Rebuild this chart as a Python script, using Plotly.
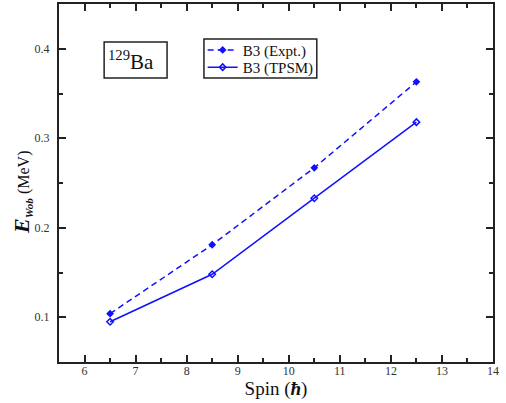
import plotly.graph_objects as go

spin = [6.5, 8.5, 10.5, 12.5]
e_expt = [0.104, 0.181, 0.267, 0.363]
e_tpsm = [0.095, 0.148, 0.233, 0.318]
x_ticks = [6, 7, 8, 9, 10, 11, 12, 13, 14]
y_ticks = [0.1, 0.2, 0.3, 0.4]

blue = "#1010ff"
serif = "Liberation Serif, Times New Roman, serif"

fig = go.Figure()
fig.add_trace(go.Scatter(
    x=spin, y=e_expt, mode="lines+markers", name="B3 (Expt.)",
    line=dict(color=blue, width=1.5, dash="6px,4px"),
    marker=dict(symbol="diamond", size=6, color=blue),
    legend="legend",
))
fig.add_trace(go.Scatter(
    x=spin, y=e_tpsm, mode="lines+markers", name="B3 (TPSM)",
    line=dict(color=blue, width=1.5),
    marker=dict(symbol="diamond-open", size=5, color=blue, line=dict(width=1.5, color=blue)),
    legend="legend2",
))

axis_common = dict(
    showline=True, linecolor="#222", linewidth=2, mirror="ticks",
    ticks="inside", ticklen=7, tickwidth=1.5, tickcolor="#222",
    showgrid=False, zeroline=False,
    tickfont=dict(family=serif, size=12, color="#333"),
)

fig.update_xaxes(
    range=[5.5, 14], tickvals=x_ticks, ticktext=[str(v) for v in x_ticks],
    minor=dict(ticks="inside", ticklen=4, tickwidth=1.5, tickcolor="#222", dtick=0.5, tick0=5.5, showgrid=False),
    title=dict(text="Spin (<b><i>ħ</i></b>)", font=dict(family=serif, size=19, color="#111"), standoff=0),
    ticklabelstandoff=-3,
    **axis_common,
)
fig.update_yaxes(
    range=[0.05, 0.45], tickvals=y_ticks, ticktext=[f"{v:.1f}" for v in y_ticks],
    minor=dict(ticks="inside", ticklen=4, tickwidth=1.5, tickcolor="#222", dtick=0.05, tick0=0.05, showgrid=False),
    ticklabelstandoff=5,
    **axis_common,
)

# y-axis title
fig.add_annotation(xref="paper", yref="paper", x=-0.085, y=0.475,
                   text="<span style='font-size:22px'><b><i>E</i></b></span><sub><b><i>Wob</i></b></sub> (MeV)",
                   textangle=-90, showarrow=False,
                   font=dict(family=serif, size=16, color="#111"),
                   xanchor="center", yanchor="middle")

# 129Ba label box
fig.add_shape(type="rect", xref="paper", yref="paper",
              x0=0.104, x1=0.249, y0=0.793, y1=0.894,
              line=dict(color="#222", width=1.5), fillcolor="white")
fig.add_annotation(xref="paper", yref="paper", x=0.166, y=0.843,
                   text="<sup>129</sup>Ba", showarrow=False,
                   font=dict(family=serif, size=21, color="#111"),
                   xanchor="center", yanchor="middle")

# legend frame
fig.add_shape(type="rect", xref="paper", yref="paper",
              x0=0.334, x1=0.594, y0=0.793, y1=0.902,
              line=dict(color="#222", width=1.5), fillcolor="white", layer="below")

legend_common = dict(xanchor="left", yanchor="top", borderwidth=0,
                     bgcolor="rgba(0,0,0,0)",
                     font=dict(family=serif, size=15, color="#111"),
                     itemwidth=30)

fig.update_layout(
    width=506, height=403,
    margin=dict(l=59, r=13, t=4, b=41, autoexpand=False),
    plot_bgcolor="white", paper_bgcolor="white",
    showlegend=True,
    legend=dict(x=0.331, y=0.917, **legend_common),
    legend2=dict(x=0.331, y=0.869, **legend_common),
)

fig.write_html("out.html", config={"displayModeBar": False},
               post_script="document.body.style.margin='0';document.body.style.padding='0';")
